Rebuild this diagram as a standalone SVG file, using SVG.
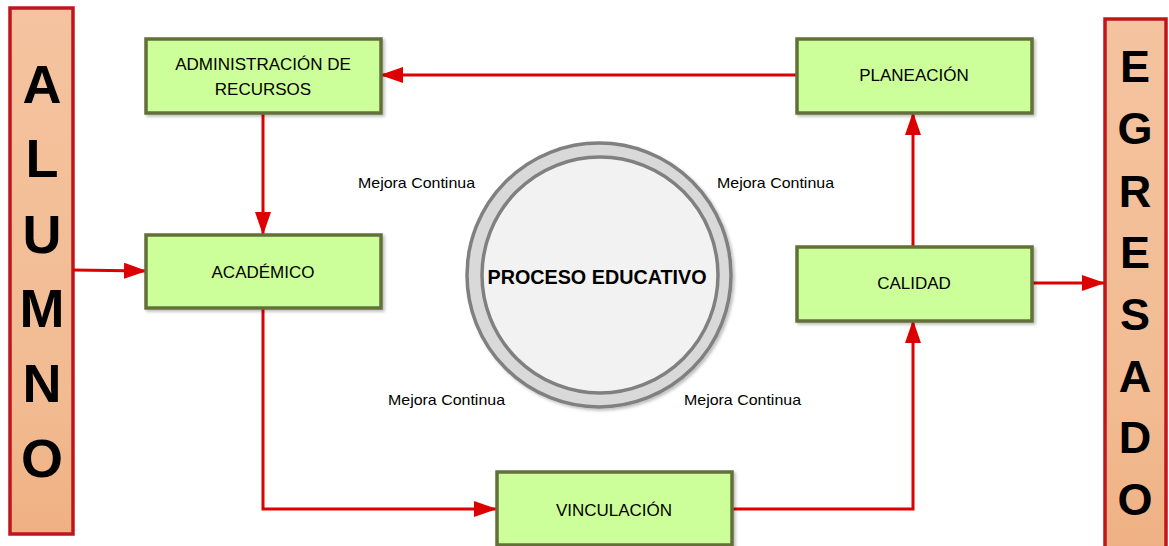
<svg xmlns="http://www.w3.org/2000/svg" width="1169" height="546" viewBox="0 0 1169 546">
<defs>
  <linearGradient id="barGrad" x1="0" y1="0" x2="0" y2="1">
    <stop offset="0" stop-color="#f4c39f"/>
    <stop offset="0.7" stop-color="#f2bc93"/>
    <stop offset="1" stop-color="#efb183"/>
  </linearGradient>
  <filter id="shadow" x="-10%" y="-10%" width="125%" height="130%">
    <feDropShadow dx="2" dy="2" stdDeviation="1.5" flood-color="#000" flood-opacity="0.25"/>
  </filter>
  <marker id="arrow" markerUnits="userSpaceOnUse" markerWidth="23" markerHeight="16" refX="22" refY="8" orient="auto">
    <path d="M0,0 L23,8 L0,16 z" fill="#dd0000"/>
  </marker>
  <style>
    .bar { fill: url(#barGrad); stroke: #c0161b; stroke-width: 3.5; }
    .barTxt { font-family: "Liberation Sans", Arial, sans-serif; font-weight: bold; fill: #000; text-anchor: middle; }
    .box { fill: #ccff99; stroke: #637038; stroke-width: 3.5; filter: url(#shadow); }
    .boxTxt { font-family: "Liberation Sans", Arial, sans-serif; font-size: 17px; fill: #000; text-anchor: middle; }
    .conn { fill: none; stroke: #dd0000; stroke-width: 3; }
    .lbl { font-family: "Liberation Sans", Arial, sans-serif; font-size: 15px; fill: #000; }
  </style>
</defs>
<rect width="1169" height="546" fill="#ffffff"/>

<g id="alumno">
  <rect class="bar" x="10" y="8" width="63" height="526"/>
  <g class="barTxt" font-size="54">
    <text x="42" y="103">A</text>
    <text x="42" y="177">L</text>
    <text x="42" y="253">U</text>
    <text x="42" y="327">M</text>
    <text x="42" y="402">N</text>
    <text x="42" y="477">O</text>
  </g>
</g>

<g id="egresado">
  <rect class="bar" x="1105" y="19" width="61" height="530"/>
  <g class="barTxt" font-size="45">
    <text x="1135" y="82">E</text>
    <text x="1135" y="144">G</text>
    <text x="1135" y="207">R</text>
    <text x="1135" y="268">E</text>
    <text x="1135" y="330">S</text>
    <text x="1135" y="392">A</text>
    <text x="1135" y="453">D</text>
    <text x="1135" y="515">O</text>
  </g>
</g>

<g id="proceso">
  <circle cx="599" cy="275" r="132" fill="#d9d9d9" stroke="#808080" stroke-width="3.5" filter="url(#shadow)"/>
  <circle cx="600" cy="275" r="118" fill="#f2f2f2" stroke="#808080" stroke-width="3.5"/>
  <text x="597" y="284" font-family="'Liberation Sans', Arial, sans-serif" font-weight="bold" font-size="19.5" text-anchor="middle" textLength="219" lengthAdjust="spacingAndGlyphs">PROCESO EDUCATIVO</text>
</g>

<g id="labels">
  <text class="lbl" x="358" y="188" textLength="117" lengthAdjust="spacingAndGlyphs">Mejora Continua</text>
  <text class="lbl" x="717" y="188" textLength="117" lengthAdjust="spacingAndGlyphs">Mejora Continua</text>
  <text class="lbl" x="388" y="405" textLength="117" lengthAdjust="spacingAndGlyphs">Mejora Continua</text>
  <text class="lbl" x="684" y="405" textLength="117" lengthAdjust="spacingAndGlyphs">Mejora Continua</text>
</g>

<g id="connectors">
  <line class="conn" x1="797" y1="75" x2="381" y2="75" marker-end="url(#arrow)"/>
  <line class="conn" x1="263" y1="113" x2="263" y2="234" marker-end="url(#arrow)"/>
  <line class="conn" x1="73" y1="270" x2="146" y2="271" marker-end="url(#arrow)"/>
  <polyline class="conn" points="263,308 263,509 496,509" marker-end="url(#arrow)"/>
  <polyline class="conn" points="732,509 913,509 913,321" marker-end="url(#arrow)"/>
  <line class="conn" x1="913" y1="247" x2="913" y2="113" marker-end="url(#arrow)"/>
  <line class="conn" x1="1032" y1="283" x2="1104" y2="283" marker-end="url(#arrow)"/>
</g>

<g id="administracion">
  <rect class="box" x="146" y="39" width="235" height="74"/>
  <text class="boxTxt" x="263" y="70">ADMINISTRACIÓN DE</text>
  <text class="boxTxt" x="263" y="95">RECURSOS</text>
</g>

<g id="academico">
  <rect class="box" x="146" y="235" width="235" height="73"/>
  <text class="boxTxt" x="263" y="278">ACADÉMICO</text>
</g>

<g id="planeacion">
  <rect class="box" x="797" y="39" width="235" height="74"/>
  <text class="boxTxt" x="914" y="81">PLANEACIÓN</text>
</g>

<g id="calidad">
  <rect class="box" x="797" y="247" width="235" height="74"/>
  <text class="boxTxt" x="914" y="289">CALIDAD</text>
</g>

<g id="vinculacion">
  <rect class="box" x="497" y="472" width="235" height="73"/>
  <text class="boxTxt" x="614" y="516">VINCULACIÓN</text>
</g>
</svg>
